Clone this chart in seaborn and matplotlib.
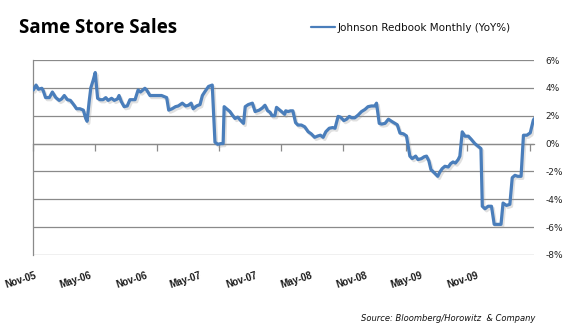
import matplotlib
matplotlib.use("Agg")
import matplotlib.pyplot as plt
import matplotlib.dates as mdates
import matplotlib.patheffects as pe
import matplotlib.ticker as mticker
import seaborn as sns
import pandas as pd

# ---------------- data ----------------
dates = [
    "2005-11-02", "2005-11-10", "2005-11-17", "2005-11-27", "2005-12-01", "2005-12-08",
    "2005-12-19", "2005-12-28", "2006-01-07", "2006-01-17", "2006-01-24", "2006-02-01",
    "2006-02-10", "2006-02-19", "2006-03-02", "2006-03-09", "2006-03-19", "2006-03-29",
    "2006-04-05", "2006-04-09", "2006-04-15", "2006-04-20", "2006-04-27", "2006-05-03",
    "2006-05-10", "2006-05-17", "2006-05-26", "2006-06-03", "2006-06-10", "2006-06-20",
    "2006-06-28", "2006-07-07", "2006-07-12", "2006-07-19", "2006-07-27", "2006-08-05",
    "2006-08-13", "2006-08-28", "2006-09-06", "2006-09-13", "2006-09-26", "2006-10-01",
    "2006-10-11", "2006-10-25", "2006-11-09", "2006-11-14", "2006-11-29", "2006-12-05",
    "2006-12-15", "2006-12-25", "2007-01-02", "2007-01-14", "2007-01-24", "2007-02-01",
    "2007-02-09", "2007-02-15", "2007-02-25", "2007-03-07", "2007-03-14", "2007-03-22",
    "2007-04-01", "2007-04-12", "2007-04-20", "2007-04-28", "2007-05-08", "2007-05-14",
    "2007-05-17", "2007-05-24", "2007-06-03", "2007-06-10", "2007-06-18", "2007-06-26",
    "2007-07-03", "2007-07-13", "2007-07-18", "2007-07-27", "2007-08-08", "2007-08-16",
    "2007-08-28", "2007-09-06", "2007-09-14", "2007-09-22", "2007-09-29", "2007-10-05",
    "2007-10-13", "2007-10-18", "2007-10-28", "2007-11-04", "2007-11-11", "2007-11-14",
    "2007-11-21", "2007-11-28", "2007-12-05", "2007-12-13", "2007-12-20", "2007-12-30",
    "2008-01-09", "2008-01-19", "2008-01-28", "2008-02-07", "2008-02-17", "2008-02-24",
    "2008-03-03", "2008-03-11", "2008-03-21", "2008-03-31", "2008-04-07", "2008-04-16",
    "2008-04-23", "2008-05-03", "2008-05-11", "2008-05-19", "2008-05-26", "2008-06-04",
    "2008-06-14", "2008-06-24", "2008-07-04", "2008-07-13", "2008-07-23", "2008-08-02",
    "2008-08-07", "2008-08-15", "2008-08-22", "2008-09-01", "2008-09-11", "2008-09-20",
    "2008-09-30", "2008-10-07", "2008-10-15", "2008-10-25", "2008-11-03", "2008-11-13",
    "2008-11-20", "2008-11-30", "2008-12-07", "2008-12-17", "2008-12-25", "2009-01-01",
    "2009-01-08", "2009-01-14", "2009-01-24", "2009-02-03", "2009-02-09", "2009-02-16",
    "2009-02-24", "2009-03-06", "2009-03-13", "2009-03-20", "2009-03-27", "2009-04-04",
    "2009-04-09", "2009-04-16", "2009-04-24", "2009-05-04", "2009-05-13", "2009-05-23",
    "2009-06-04", "2009-06-10", "2009-06-14", "2009-06-22", "2009-07-01", "2009-07-11",
    "2009-07-19", "2009-07-29", "2009-08-08", "2009-08-14", "2009-08-24", "2009-09-03",
    "2009-09-10", "2009-09-18", "2009-09-26", "2009-10-06", "2009-10-13", "2009-10-23",
    "2009-11-02", "2009-11-11", "2009-11-14",
]
yoy_pct = [
    3.85, 4.2, 3.9, 3.97, 3.8, 3.3,
    3.3, 3.7, 3.3, 3.1, 3.2, 3.45,
    3.15, 3.1, 2.75, 2.5, 2.5, 2.4,
    1.8, 1.6, 3.0, 4.0, 4.55, 5.1,
    3.25, 3.15, 3.15, 3.3, 3.1, 3.25,
    3.1, 3.2, 3.45, 3.0, 2.65, 2.7,
    3.15, 3.15, 3.85, 3.7, 3.97, 3.85,
    3.45, 3.45, 3.45, 3.45, 3.3, 2.4,
    2.5, 2.65, 2.7, 2.9, 2.7, 2.75,
    2.9, 2.5, 2.7, 2.8, 3.45, 3.75,
    4.1, 4.2, 0.1, -0.05, 0.0, 0.0,
    2.65, 2.5, 2.3, 2.05, 1.8, 1.9,
    1.7, 1.45, 2.65, 2.8, 2.9, 2.3,
    2.4, 2.55, 2.75, 2.35, 2.25, 2.0,
    2.0, 2.6, 2.4, 2.25, 2.1, 2.35,
    2.3, 2.35, 2.35, 1.5, 1.33, 1.33,
    1.2, 0.85, 0.7, 0.45, 0.55, 0.6,
    0.45, 0.85, 1.1, 1.15, 1.1, 1.95,
    1.9, 1.65, 1.75, 1.95, 1.85, 1.85,
    2.05, 2.3, 2.45, 2.65, 2.7, 2.7,
    2.9, 1.45, 1.4, 1.45, 1.75, 1.6,
    1.45, 1.35, 0.75, 0.7, 0.55, -0.9,
    -1.08, -0.9, -1.15, -1.08, -0.95, -0.9,
    -1.25, -1.87, -2.1, -2.35, -2.05, -1.8,
    -1.63, -1.68, -1.44, -1.32, -1.4, -1.15,
    -0.9, 0.84, 0.53, 0.53, 0.29, 0.0,
    -0.24, -0.36, -4.5, -4.68, -4.5, -4.5,
    -5.8, -5.8, -5.8, -4.27, -4.44, -4.36,
    -2.45, -2.28, -2.35, -2.35, 0.6, 0.6,
    0.77, 1.68, 1.8,
]
x_tick_labels = ["Nov-05", "May-06", "Nov-06", "May-07", "Nov-07",
                 "May-08", "Nov-08", "May-09", "Nov-09"]
x_tick_dates = ["2005-11-01", "2006-05-01", "2006-11-01", "2007-05-01", "2007-11-01",
                "2008-05-01", "2008-11-01", "2009-05-01", "2009-11-01"]
y_ticks = [-8, -6, -4, -2, 0, 2, 4, 6]
series_name = "Johnson Redbook Monthly (YoY%)"
title = "Same Store Sales"
source = "Source: Bloomberg/Horowitz  & Company"

# ---------------- style ----------------
sns.set_theme(style="white")
plt.rcParams["font.family"] = ["DejaVu Sans"]

W, H = 583, 332
fig = plt.figure(figsize=(W / 100, H / 100), dpi=100)
left_px, right_px, top_px, bot_px = 33, 534, 60, 255
ax = fig.add_axes([left_px / W, 1 - bot_px / H, (right_px - left_px) / W, (bot_px - top_px) / H])

df = pd.DataFrame({"date": pd.to_datetime(dates), "yoy": yoy_pct})
line_color = "#4A7EBB"
grid_color = "#8A8A8A"

sns.lineplot(data=df, x="date", y="yoy", ax=ax, color=line_color, linewidth=2.3,
             label=series_name, zorder=3)
ln = ax.lines[0]
ln.set_solid_joinstyle("round")
ln.set_path_effects([pe.SimpleLineShadow(offset=(1.2, -1.5), shadow_color="#9a9a9a", alpha=0.3),
                     pe.Normal()])

start = pd.Timestamp("2005-11-01")
ax.set_xlim(start, pd.Timestamp("2009-11-13"))
ax.set_ylim(-8, 6)
ax.set_xlabel("")
ax.set_ylabel("")

# y axis on the right
ax.yaxis.tick_right()
ax.set_yticks(y_ticks)
ax.yaxis.set_major_formatter(mticker.FuncFormatter(lambda v, p: f"{int(v)}%"))
ax.tick_params(axis="y", length=0, pad=8, labelsize=6.5, labelcolor="#222222")
ax.grid(axis="y", color=grid_color, linewidth=0.9)
ax.grid(axis="x", visible=False)

for s in ["top", "right", "bottom"]:
    ax.spines[s].set_visible(False)
ax.spines["left"].set_color(grid_color)
ax.spines["left"].set_linewidth(0.9)

# bottom category labels (Excel packs them slightly tighter than the tick marks)
tick_ts = pd.to_datetime(x_tick_dates)
label_pos = [start + (t - start) * 0.888 + pd.Timedelta(days=6) for t in tick_ts]
ax.set_xticks(label_pos)
ax.set_xticklabels(x_tick_labels, rotation=18, ha="right", va="top", rotation_mode="anchor",
                   fontweight="bold", fontsize=7, family="Liberation Sans", color="#1a1a1a")
ax.tick_params(axis="x", length=0, pad=11)

# horizontal axis line at 0% with tick marks
sec = ax.secondary_xaxis(8 / 14)
sec.set_xticks(mdates.date2num(tick_ts))
sec.tick_params(axis="x", direction="in", length=5, width=0.9, color=grid_color,
                labeltop=False, labelbottom=False)
for s in sec.spines.values():
    s.set_color(grid_color)
    s.set_linewidth(0.9)

# legend
leg = ax.legend(loc="center left", bbox_to_anchor=(311 / W, 1 - 28 / H), bbox_transform=fig.transFigure,
                frameon=False, fontsize=7.5, handlelength=2.3, handletextpad=0.25,
                borderpad=0, borderaxespad=0)
for h in leg.legend_handles:
    h.set_path_effects([])
    h.set_linewidth(1.6)
for t in leg.get_texts():
    t.set_color("#111111")

# title & source
fig.text(19 / W, 1 - 33 / H, title, fontsize=13.5, fontweight="bold", family="Open Sans",
         va="baseline", ha="left", color="black")
fig.text(535 / W, 1 - 321 / H, source, fontsize=6, style="italic", ha="right", va="baseline",
         color="#111111")

fig.savefig("out.png", dpi=100)
